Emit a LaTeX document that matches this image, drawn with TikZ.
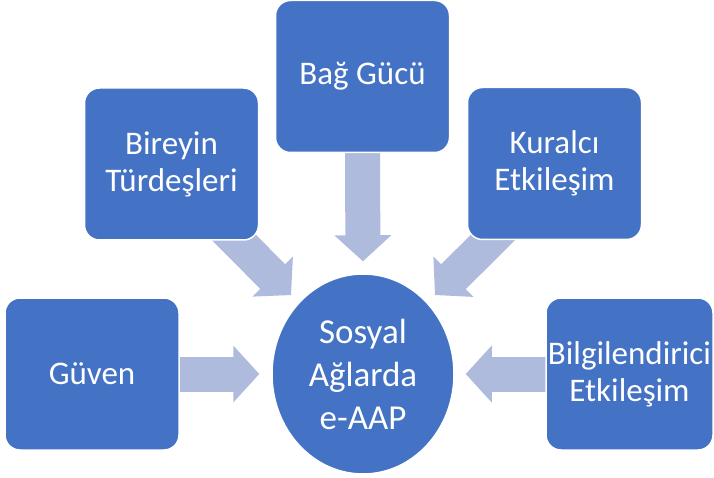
\documentclass[tikz,border=0pt]{standalone}
\usepackage{fontspec}
\setmainfont{Carlito}
\usetikzlibrary{positioning, calc}
\usetikzlibrary{shapes.geometric,arrows.meta,backgrounds}
\definecolor{boxblue}{RGB}{68,114,196}
\definecolor{arrowblue}{RGB}{175,187,221}
\newcommand{\boxtext}{\fontsize{33}{37}\selectfont}
\newcommand{\hubtext}{\fontsize{35}{43}\selectfont}

\begin{document}
\begin{tikzpicture}[x=1pt,y=-1pt,
    topic/.style={rectangle,rounded corners=15pt,fill=boxblue,draw=white,line width=1.5pt,
        text=white,minimum width=174pt,minimum height=152pt,inner sep=0pt,align=center,font=\boxtext},
    hub/.style={ellipse,fill=boxblue,draw=white,line width=1.5pt,
        text=white,minimum width=182pt,minimum height=200pt,inner sep=0pt,align=center,font=\hubtext},
    fatarrow/.style={draw=arrowblue,line width=35pt,line cap=round,-{Triangle[length=26pt,width=57pt,line width=0pt]}}]
    \clip (0,0) rectangle (714,478);
    \node[hub] (sosyal) at (363,374) {Sosyal\\Ağlarda\\e-AAP};
    \node[topic] (guven) at (92,374) {Güven};
    \node[topic] (bireyin) at (171.5,164) {Bireyin\\Türdeşleri};
    \node[topic] (bag) at (362.5,76.5) {Bağ Gücü};
    \node[topic] (kural) at (554.5,163.5) {Kuralcı\\Etkileşim};
    \node[topic,minimum width=167pt] (bilgi) at (629.5,374) {Bilgilendirici\\Etkileşim};
    \coordinate (tailL) at ($(bireyin.south east)+(-37,-15)$);
    \coordinate (tipL) at ($(sosyal.center)+(-72,-79)$);
    \coordinate (tailR) at ($(kural.south west)+(38,-14.5)$);
    \coordinate (tipR) at ($(sosyal.center)+(72,-79)$);
    \begin{pgfonlayer}{background}
        \draw[fatarrow,shorten >=12pt] (guven.east) -- (sosyal.west);
        \draw[fatarrow,shorten >=12pt] (bag.south) -- (sosyal.north);
        \draw[fatarrow,shorten >=11pt] (bilgi.west) -- (sosyal.east);
        \draw[fatarrow] (tailL) -- (tipL);
        \draw[fatarrow] (tailR) -- (tipR);
    \end{pgfonlayer}
\end{tikzpicture}
\end{document}
